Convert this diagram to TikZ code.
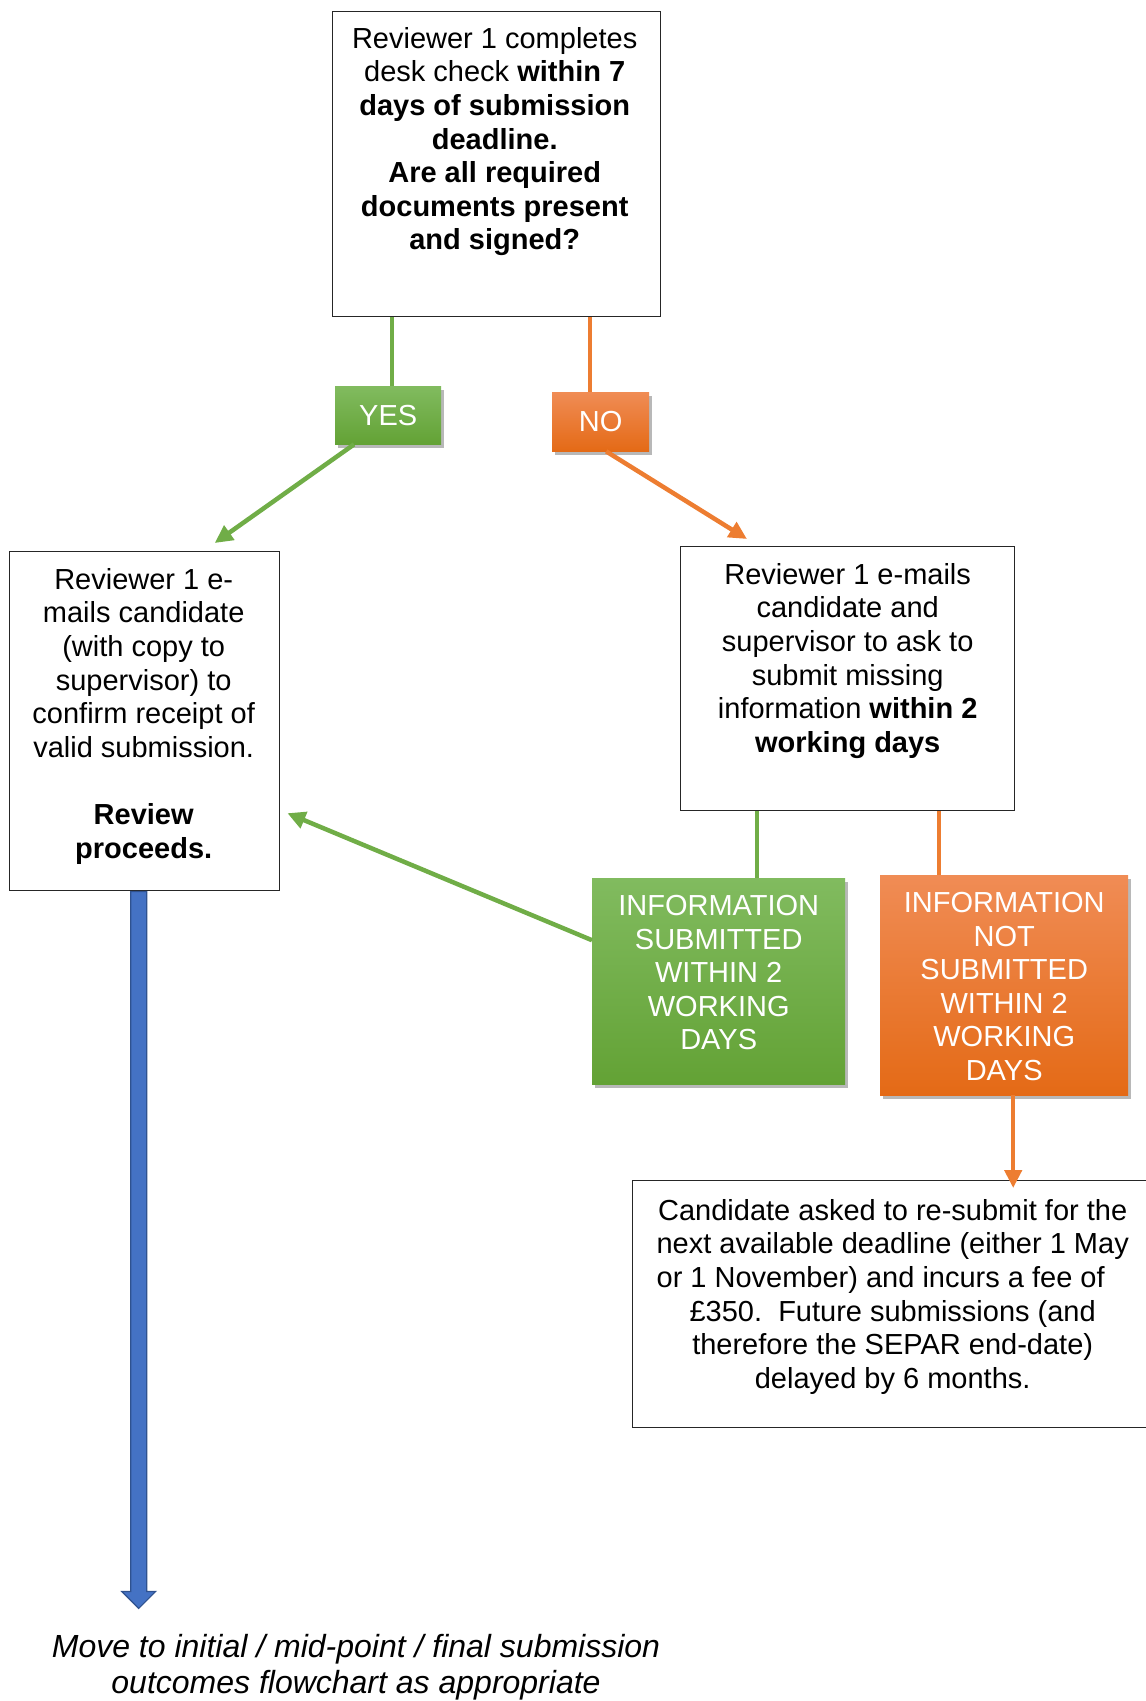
\documentclass[tikz,border=0pt]{standalone}
\usepackage{fontspec}
\setmainfont{Liberation Sans}
\usetikzlibrary{arrows.meta,shadows,calc}
\definecolor{GL}{RGB}{112,173,71}
\definecolor{OL}{RGB}{237,125,49}
\definecolor{G1}{RGB}{129,187,95}
\definecolor{G2}{RGB}{99,162,53}
\definecolor{O1}{RGB}{240,140,85}
\definecolor{O2}{RGB}{241,125,40}
\definecolor{O3}{RGB}{228,106,22}
\definecolor{BF}{RGB}{68,114,196}
\definecolor{BD}{RGB}{47,82,143}
\begin{document}
\begin{tikzpicture}[x=1pt,y=-1pt,
  wbox/.style={draw=black!85, line width=1.4pt, fill=white, inner sep=0pt, anchor=north west},
  txt/.style={font=\fontsize{29}{33.6}\selectfont, align=center, inner sep=0pt, anchor=north},
  cbox/.style={inner sep=0pt, anchor=north west, text=white, font=\fontsize{29}{33.6}\selectfont,
    drop shadow={shadow xshift=3pt, shadow yshift=-4pt, opacity=0.28, fill=black}},
  gbox/.style={cbox, top color=G1, bottom color=G2},
  obox/.style={cbox, top color=O1, middle color=O2, bottom color=O3},
  gline/.style={draw=GL, line width=4.5pt},
  oline/.style={draw=OL, line width=4.5pt},
  garrow/.style={gline, -{Triangle[length=18pt,width=17pt]}},
  oarrow/.style={oline, -{Triangle[length=18pt,width=17pt]}},
  blockarrow/.style={fill=BF, draw=BD, line width=1.2pt, line join=miter}
]
\useasboundingbox (0,0) rectangle (1146,1701);
\clip (0,0) rectangle (1146,1701);

% boxes
\node[wbox, minimum width=328pt, minimum height=305pt] (top) at (332,11) {};
\node[wbox, minimum width=270pt, minimum height=339pt] (lb) at (9,551) {};
\node[wbox, minimum width=334pt, minimum height=264pt] (rb) at (680,546) {};
\node[wbox, minimum width=530pt, minimum height=247pt] (bb) at (632,1180) {};

% coloured boxes
\node[gbox, minimum width=106pt, minimum height=58pt] (yes) at (335,386) {YES};
\node[obox, minimum width=97pt, minimum height=59pt] (no) at (552,392) {NO};
\node[gbox, minimum width=253pt, minimum height=206pt] (ginfo) at (592,878) {};
\node[obox, minimum width=248pt, minimum height=220pt] (oinfo) at (880,875) {};

% texts
\node[txt] (ttop) at ([xshift=-2pt,yshift=-16pt]top.north) {Reviewer 1 completes\\desk check \textbf{within 7}\\\textbf{days of submission}\\\textbf{deadline.}\\\textbf{Are all required}\\\textbf{documents present}\\\textbf{and signed?}};
\node[txt] (tlb) at ([xshift=-1pt,yshift=-17pt]lb.north) {Reviewer 1 e-\\mails candidate\\(with copy to\\supervisor) to\\confirm receipt of\\valid submission.\\[33.6pt]\textbf{Review}\\\textbf{proceeds.}};
\node[txt] (trb) at ([yshift=-17pt]rb.north) {Reviewer 1 e-mails\\candidate and\\supervisor to ask to\\submit missing\\information \textbf{within 2}\\\textbf{working days}};
\node[txt, text=white] (tginfo) at ([yshift=-17pt]ginfo.north) {INFORMATION\\SUBMITTED\\WITHIN 2\\WORKING\\DAYS};
\node[txt, text=white] (toinfo) at ([yshift=-17pt]oinfo.north) {INFORMATION\\NOT\\SUBMITTED\\WITHIN 2\\WORKING\\DAYS};
\node[txt] (tbb) at ([xshift=-5pt,yshift=-19pt]bb.north) {Candidate asked to re-submit for the\\next available deadline (either 1 May\\or 1 November) and incurs a fee of\rule{24pt}{0pt}\\£350.\ \ Future submissions (and\\therefore the SEPAR end-date)\\delayed by 6 months.};
\node[txt, font=\fontsize{32}{36}\selectfont\itshape] (outc) at (356,1634) {Move to initial / mid-point / final submission\\outcomes flowchart as appropriate};

% connectors
\draw[gline] ([xshift=4pt]yes.north |- top.south) -- ([xshift=4pt]yes.north);
\draw[oline] ([xshift=-10.5pt]no.north |- top.south) -- ([xshift=-10.5pt]no.north);
\draw[garrow] ([xshift=19pt]yes.south west) -- ([xshift=70pt,yshift=8pt]lb.north);
\draw[oarrow] ([xshift=5.5pt]no.south) -- ([xshift=67pt,yshift=7pt]rb.north west);
\draw[gline] ([xshift=38.5pt]ginfo.north |- rb.south) -- ([xshift=38.5pt]ginfo.north);
\draw[oline] ([xshift=-65pt]oinfo.north |- rb.south) -- ([xshift=-65pt]oinfo.north);
\draw[garrow] ([yshift=41pt]ginfo.west) -- ([xshift=7pt,yshift=-92pt]lb.east);
\draw[oarrow] ([xshift=9pt]oinfo.south) -- ([xshift=9pt,yshift=-8pt]oinfo.south |- bb.north);

% blue block arrow
\draw[blockarrow] ([xshift=-14pt]lb.south) -- ++(0,700) -- ++(-9,0) -- ++(17,17) -- ++(17,-17) -- ++(-9,0) -- ++(0,-700) -- cycle;
\end{tikzpicture}
\end{document}
